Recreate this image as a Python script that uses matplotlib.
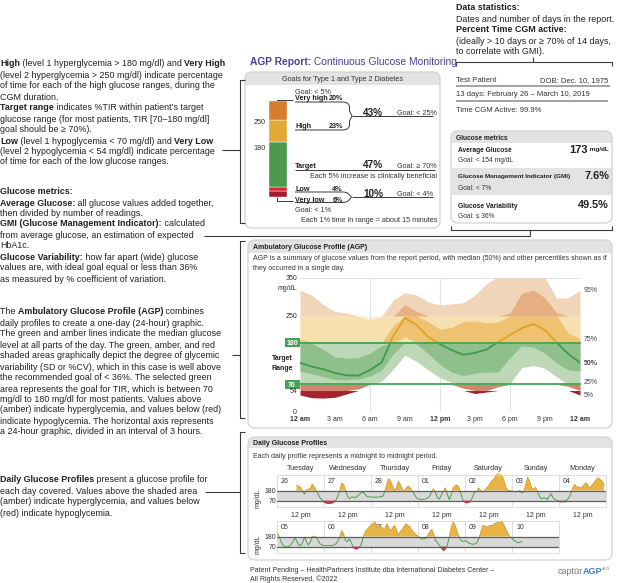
import numpy as np
import matplotlib
matplotlib.use('Agg')
import matplotlib.pyplot as plt
from matplotlib.patches import FancyBboxPatch, Rectangle

plt.rcParams['font.family'] = ['Liberation Sans', 'DejaVu Sans']

nan = np.nan
# ---------------- data ----------------
tir_labels = ['Very low', 'Low', 'Target', 'High', 'Very high']
tir_values = [6, 4, 47, 23, 20]
tir_colors = ['#a31c2c', '#d8262e', '#4b9a4f', '#e3a936', '#d67d2e']

agp_hours = np.arange(25)
p95 = [318, 305, 280, 262, 258, 250, 240, 248, 292, 312, 305, 287, 279, 282, 285, 305,
       335, 355, 370, 375, 375, 350, 297, 298, 318]
p75 = [190, 178, 162, 142, 139, 140, 152, 172, 225, 280, 262, 235, 215, 220, 235, 237,
       232, 234, 258, 310, 318, 298, 258, 205, 190]
p50 = [127, 117, 110, 100, 94, 93, 108, 128, 198, 245, 226, 195, 176, 160, 148, 153,
       162, 182, 200, 218, 229, 213, 180, 150, 127]
p25 = [105, 98, 90, 83, 82, 84, 92, 108, 150, 195, 176, 150, 122, 102, 93, 100,
       102, 103, 140, 172, 168, 152, 126, 108, 105]
p05 = [42, 35, 34, 36, 45, 58, 70, 78, 110, 147, 130, 108, 88, 75, 60, 46,
       50, 64, 72, 114, 120, 112, 90, 65, 42]
agp_xticklabels = ['12 am', '3 am', '6 am', '9 am', '12 pm', '3 pm', '6 pm', '9 pm', '12 am']

row1_days = ['26', '27', '28', '01', '02', '03', '04']
row1_weekdays = ['Tuesday', 'Wednesday', 'Thursday', 'Friday', 'Saturday', 'Sunday', 'Monday']
row2_days = ['05', '06', '07', '08', '09', '10']

# hourly glucose (mg/dL), hours 0..23 of each day
g26 = [nan]*10 + [235, 225, 215, 175, 140, 185, 195, 200, 250, 220, 185, 140, 100, 75]
g27 = [52, 45, 37, 40, 41, 52, 70, 118, 173, 264, 246, 180, 118, 92, 107, 110, 99, 118, 136, 154, 165, 136, 114, 110]
g28 = [110, 108, 107, 108, 110, 112, 118, 165, 246, 312, 283, 228, 180, 209, 283, 246, 191, 173, 209, 228, 209, 173, 143, 107]
g01 = [88, 84, 81, 84, 88, 100, 118, 173, 198, 154, 99, 88, 136, 180, 209, 136, 81, 136, 209, 235, 239, 209, 136, 70]
g02 = [52, 44, 50, 70, 118, 165, 173, 209, 180, 165, 180, 209, 228, 264, 290, 312, 349, 363, 356, 338, 283, 209, 180, 180]
g03 = [173, 170, 165, 173, 180, 154, 165, 246, 327, 283, 209, 191, 217, 173, 118, 88, 99, 99, 81, 118, 143, 99, 81, 74]
g04 = [63, 55, 58, 55, 74, 99, 143, 209, 246, 217, 220, 209, 220, 253, 264, 228, 209, 246, 264, 301, 319, 301, 283, 246]
g05 = [217, 191, 125, 88, 74, 59, 74, 88, 118, 162, 136, 88, 81, 110, 173, 125, 88, 118, 180, 184, 173, 136, 99, 88]
g06 = [81, 81, 81, 80, 81, 88, 99, 125, 173, 246, 209, 136, 125, 154, 110, 63, 44, 44, 63, 88, 173, 228, 257, 283]
g07 = [301, 319, 338, 283, 301, 283, 272, 257, 319, 283, 246, 272, 301, 257, 191, 235, 257, 294, 319, 301, 283, 246, 220, 202]
g08 = [184, 162, 154, 154, 162, 191, 228, 257, 209, 136, 110, 81, 52, 26, 44, 88, 173, 283, 338, 301, 235, 173, 136, 125]
g09 = [136, 125, 110, 99, 96, 99, 110, 154, 224, 301, 294, 283, 294, 301, 301, 319, 330, 338, 338, 345, 301, 257, 209, 180]
g10 = [162, 136, 125, 110, 118, 125] + [nan]*18

row1_glucose = [g26, g27, g28, g01, g02, g03, g04]
row2_glucose = [g05, g06, g07, g08, g09, g10]

# ---------------- figure ----------------
W, H = 617, 583
fig = plt.figure(figsize=(W/100, H/100), dpi=100)
bg = fig.add_axes([0, 0, 1, 1])
bg.set_xlim(0, W); bg.set_ylim(H, 0); bg.axis('off')
R = fig.canvas.get_renderer()

TXT = '#231f20'
LINE = '#3a3a3a'


def add_ax(x0, y0, x1, y1):
    a = fig.add_axes([x0/W, 1-y1/H, (x1-x0)/W, (y1-y0)/H])
    a.set_facecolor('none')
    return a


def twidth(s, size, weight):
    t = bg.text(0, 0, s + '|', fontsize=size, fontweight=weight)
    w1 = t.get_window_extent(R).width
    t.remove()
    t = bg.text(0, 0, '|', fontsize=size, fontweight=weight)
    w2 = t.get_window_extent(R).width
    t.remove()
    return w1 - w2


def rich(x, y, segs, size, color=TXT, z=5):
    for s, wt in segs:
        bg.text(x, y, s, fontsize=size, fontweight=wt, color=color,
                va='center_baseline', ha='left', zorder=z)
        x += twidth(s, size, wt)


def txt(x, y, s, size, weight='normal', color=TXT, ha='left', z=5, **kw):
    return bg.text(x, y, s, fontsize=size, fontweight=weight, color=color,
                   va='center_baseline', ha=ha, zorder=z, **kw)


def pline(pts, color=LINE, lw=0.8, z=3):
    xs, ys = zip(*pts)
    bg.plot(xs, ys, color=color, lw=lw, zorder=z, solid_capstyle='butt')


def panel(x0, y0, x1, y1, hdr_h=0, r=6, hdr='#e3e3e3', edge='#d2d2d2'):
    box = FancyBboxPatch((x0, y0), x1-x0, y1-y0, boxstyle=f"round,pad=0,rounding_size={r}",
                         fc='white', ec='none', zorder=1)
    bg.add_patch(box)
    if hdr_h:
        hr = Rectangle((x0, y0), x1-x0, hdr_h, fc=hdr, ec='none', zorder=1.1)
        bg.add_patch(hr)
        hr.set_clip_path(box)
    bg.add_patch(FancyBboxPatch((x0, y0), x1-x0, y1-y0, boxstyle=f"round,pad=0,rounding_size={r}",
                                fc='none', ec=edge, lw=0.9, zorder=1.2))
    return box


B, N = 'bold', 'normal'
# ---------------- left explanatory column ----------------
LS = 6.4
left_lines = [
    (63, [("High", B), (" (level 1 hyperglycemia > 180 mg/dl) and ", N), ("Very High", B)]),
    (74, [("(level 2 hyperglycemia > 250 mg/dl) indicate percentage", N)]),
    (85, [("of time for each of the high glucose ranges, during the", N)]),
    (96, [("CGM duration.", N)]),
    (107, [("Target range", B), (" indicates %TIR within patient\u2019s target", N)]),
    (118, [("glucose range (for most patients, TIR [70\u2013180 mg/dl]", N)]),
    (129, [("goal should be \u2265 70%).", N)]),
    (140, [("Low", B), (" (level 1 hypoglycemia < 70 mg/dl) and ", N), ("Very Low", B)]),
    (150, [("(level 2 hypoglycemia < 54 mg/dl) indicate percentage", N)]),
    (161, [("of time for each of the low glucose ranges.", N)]),
    (191, [("Glucose metrics:", B)]),
    (202, [("Average Glucose:", B), (" all glucose values added together,", N)]),
    (213, [("then divided by number of readings.", N)]),
    (223, [("GMI (Glucose Management Indicator):", B), (" calculated", N)]),
    (234, [("from average glucose, an estimation of expected", N)]),
    (245, [("HbA1c.", N)]),
    (256, [("Glucose Variability:", B), (" how far apart (wide) glucose", N)]),
    (267, [("values are, with ideal goal equal or less than 36%", N)]),
    (278, [("as measured by % coefficient of variation.", N)]),
    (311, [("The ", N), ("Ambulatory Glucose Profile (AGP)", B), (" combines", N)]),
    (322, [("daily profiles to create a one-day (24-hour) graphic.", N)]),
    (333, [("The green and amber lines indicate the median glucose", N)]),
    (344, [("level at all parts of the day. The green, amber, and red", N)]),
    (355, [("shaded areas graphically depict the degree of glycemic", N)]),
    (366, [("variability (SD or %CV), which in this case is well above", N)]),
    (377, [("the recommended goal of < 36%. The selected green", N)]),
    (388, [("area represents the goal for TIR, which is between 70", N)]),
    (398, [("mg/dl to 180 mg/dl for most patients. Values above", N)]),
    (409, [("(amber) indicate hyperglycemia, and values below (red)", N)]),
    (420, [("indicate hypoglycemia. The horizontal axis represents", N)]),
    (431, [("a 24-hour graphic, divided in an interval of 3 hours.", N)]),
    (479, [("Daily Glucose Profiles", B), (" present a glucose profile for", N)]),
    (490, [("each day covered. Values above the shaded area", N)]),
    (501, [("(amber) indicate hyperglycemia, and values below", N)]),
    (512, [("(red) indicate hypoglycemia.", N)]),
]
for y, segs in left_lines:
    rich(0, y, segs, LS)

# brackets and connectors
for y0, y1 in [(80, 223), (241, 418), (432, 553)]:
    pline([(245, y0), (240, y0), (240, y1), (245, y1)])
pline([(222, 150), (240, 150)])
pline([(232, 355), (240, 355)])
pline([(205, 492), (240, 492)])
pline([(204, 236), (530, 236)])
pline([(451, 226), (451, 230), (612, 230), (612, 226)])
pline([(530, 230), (530, 236)])

# ---------------- top right: data statistics ----------------
rich(456, 7, [("Data statistics:", B)], LS)
rich(456, 18, [("Dates and number of days in the report.", N)], LS)
rich(456, 29, [("Percent Time CGM active:", B)], LS)
rich(456, 40, [("(ideally > 10 days or \u2265 70% of 14 days,", N)], LS)
rich(456, 51, [("to correlate with GMI).", N)], LS)
pline([(456, 66), (456, 62), (612, 62), (612, 66)])
pline([(533, 62), (533, 57)])

PS = 5.5
txt(456, 80, "Test Patient", PS, color='#333')
txt(608, 80, "DOB: Dec. 10, 1975", PS, color='#333', ha='right')
pline([(456, 85.5), (610, 85.5)], color='#8a8a8a', lw=1.1)
txt(456, 94, "13 days: February 26 \u2013 March 10, 2019", PS, color='#333')
pline([(456, 100.5), (608, 100.5)], color='#8a8a8a', lw=1.1)
txt(456, 109, "Time CGM Active: 99.9%", PS, color='#333')

# glucose metrics box
panel(451, 131, 612, 223, hdr_h=12, r=7)
bg.add_patch(Rectangle((451.5, 168), 160, 27, fc='#e3e3e3', ec='none', zorder=1.15))
MS = 4.8
txt(456, 137, "Glucose metrics", MS, B)
txt(458, 150, "Average Glucose", MS, B)
txt(458, 160, "Goal: < 154 mg/dL", MS, color='#333')
w_mg = twidth(" mg/dL", 4.6, B)
txt(609, 149, " mg/dL", 4.6, B, ha='right')
txt(609 - w_mg, 149, "173", 8.0, B, ha='right')
txt(458, 176, "Glucose Management Indicator (GMI)", 4.6, B)
txt(609, 175, "7.6%", 7.8, B, ha='right')
txt(458, 188, "Goal: < 7%", MS, color='#333')
txt(458, 206, "Glucose Variability", MS, B)
txt(609, 204, "49.5%", 7.8, B, ha='right')
txt(458, 216, "Goal: \u2264 36%", MS, color='#333')

# ---------------- AGP title and goals box ----------------
PURPLE = '#4b3f9c'
rich(250, 61, [("AGP Report:", B), (" Continuous Glucose Monitoring", N)], 7.4, color=PURPLE)

panel(245, 72, 440, 228, hdr_h=13, r=7)
GS = 5.2
txt(343, 78.5, "Goals for Type 1 and Type 2 Diabetes", GS, ha='center', color='#333')

axb = add_ax(269, 101, 287, 197)
axb.bar([0]*len(tir_values), tir_values, bottom=np.cumsum([0] + tir_values[:-1]),
        color=tir_colors, width=1.0, edgecolor='white', linewidth=0.3)
axb.set_xlim(-0.5, 0.5); axb.set_ylim(0, 100); axb.axis('off')
txt(266, 122, "250", GS, ha='right', color='#333')
txt(266, 147, "180", GS, ha='right', color='#333')

vh, hi_, tg, lo, vl = tir_values[4], tir_values[3], tir_values[2], tir_values[1], tir_values[0]
txt(295, 91, "Goal: < 5%", GS, color='#333')
txt(295, 98, "Very high", GS, B)
txt(343, 98, f"{vh}%", GS, B, ha='right')
txt(295, 125, "High", GS, B)
txt(343, 125, f"{hi_}%", GS, B, ha='right')
pline([(277, 101), (277, 99.5), (293, 99.5)], lw=0.7)
pline([(295, 102), (344, 102), (347.5, 103.2), (349.5, 106), (349.5, 111), (352, 116), (349.5, 121),
       (349.5, 126), (347.5, 128.8), (344, 130), (295, 130)], lw=0.7)
pline([(352, 116), (433, 116)], lw=0.7)
txt(373, 112, f"{vh + hi_}%", 7.2, B, ha='center')
txt(397, 112.5, "Goal: < 25%", GS, color='#333')

txt(295, 166, "Target", GS, B)
txt(373, 164.5, f"{tg}%", 7.2, B, ha='center')
txt(397, 165.5, "Goal: \u2265 70%", GS, color='#333')
pline([(295, 169.5), (435, 169.5)], lw=0.7)
txt(374, 175.5, "Each 5% increase is clinically beneficial", GS, ha='center', color='#333')

txt(295, 188.5, "Low", GS, B)
txt(343, 188.5, f"{lo}%", GS, B, ha='right')
txt(295, 199, "Very low", GS, B)
txt(343, 199, f"{vl}%", GS, B, ha='right')
pline([(295, 192), (344, 192), (347.5, 193), (349.5, 195), (351.5, 197), (349.5, 199.5), (347.5, 201.5),
       (344, 202.5), (295, 202.5)], lw=0.7)
pline([(351.5, 196.8), (433, 196.8)], lw=0.7)
pline([(277, 197), (277, 201), (293, 201)], lw=0.7)
txt(373, 193, f"{lo + vl}%", 7.2, B, ha='center')
txt(397, 193.5, "Goal: < 4%", GS, color='#333')
txt(295, 209, "Goal: < 1%", GS, color='#333')
txt(369, 219.5, "Each 1% time in range = about 15 minutes", GS, ha='center', color='#333')

# ---------------- AGP panel ----------------
panel(248, 240, 612, 428, hdr_h=13, r=7)
AS = 5.0
txt(253, 246.5, "Ambulatory Glucose Profile (AGP)", AS, B)
txt(253, 258, "AGP is a summary of glucose values from the report period, with median (50%) and other percentiles shown as if", AS, color='#333')
txt(253, 268, "they occurred in a single day.", AS, color='#333')

GREEN = '#45a257'
ax = add_ax(300, 278, 580, 411)
ax.set_xlim(0, 24); ax.set_ylim(0, 350)
for s in ax.spines.values():
    s.set_visible(False)
ax.set_xticks([]); ax.set_yticks([])
ax.axhspan(180, 250, color='#fcf2dd', lw=0, zorder=0)
for xv in [6, 12, 18]:
    ax.axvline(xv, color='#e3e3e3', lw=0.8, zorder=0.5)
ax.axhline(350, color='#e3e3e3', lw=0.8, zorder=0.5)
zones = [(0, 54, '#a3232f', '#a3232f'), (54, 70, '#d5826e', '#c9604e'),
         (70, 180, '#bdd8b6', '#8fc08b'), (180, 250, '#f6e0ae', '#eec270'),
         (250, 600, '#f1d5b8', '#e7b083')]
P95, P75, P50, P25, P05 = map(np.array, (p95, p75, p50, p25, p05))
for lo_, hi2, cl, cd in zones:
    ax.fill_between(agp_hours, np.clip(P05, lo_, hi2), np.clip(P95, lo_, hi2), color=cl, lw=0, zorder=1)
    ax.fill_between(agp_hours, np.clip(P25, lo_, hi2), np.clip(P75, lo_, hi2), color=cd, lw=0, zorder=2)
for ylo, yhi, col in [(0, 180, '#3f9a4b'), (180, 600, '#e0a128')]:
    ln, = ax.plot(agp_hours, P50, color=col, lw=1.3, zorder=3)
    ln.set_clip_path(Rectangle((0, ylo), 24, yhi - ylo, transform=ax.transData))
for yv in [70, 180]:
    ax.plot([0, 24], [yv, yv], color=GREEN, lw=1.3, zorder=4, clip_on=False)

def agp_y(v):
    return 411 - v * 133 / 350

for v, lab in [(350, "350"), (250, "250"), (54, "54"), (0, "0")]:
    txt(297, agp_y(v), lab, AS, ha='right', color='#333')
txt(297, 287.5, "mg/dL", AS, ha='right', color='#333')
for v in [180, 70]:
    bg.add_patch(Rectangle((284.5, agp_y(v) - 4.5), 15, 9, fc=GREEN, ec='none', zorder=4))
    txt(292, agp_y(v), str(v), AS, B, color='white', ha='center')
txt(282, 358, "Target", AS, B, ha='center')
txt(282, 367, "Range", AS, B, ha='center')
for lab, yv, wt in [("95%", 320, N), ("75%", 192, N), ("50%", 127, B), ("25%", 78, N), ("5%", 44, N)]:
    txt(584, agp_y(yv), lab, AS, wt, color='#444')
for i, lab in enumerate(agp_xticklabels):
    txt(300 + i * 35, 418.5, lab, AS, B if lab.startswith('12') else N, ha='center', color='#333')

# ---------------- daily glucose profiles ----------------
panel(248, 437, 612, 560, hdr_h=11, r=7)
txt(253, 442.5, "Daily Glucose Profiles", AS, B)
txt(253, 456, "Each daily profile represents a midnight to midnight period.", AS, color='#333')

AMBER = '#e9b446'
RED = '#d0434b'
LINEG = '#4c9e55'


def day_row(y0, days, glucose, labels_below):
    nd = len(days)
    x0 = 277
    dw = 47
    a = add_ax(x0, y0, x0 + dw * nd, y0 + 32)
    a.set_xlim(0, 24 * nd); a.set_ylim(0, 350)
    a.set_xticks([]); a.set_yticks([])
    for s in a.spines.values():
        s.set_color('#dddddd'); s.set_linewidth(0.7)
    for k in range(1, nd):
        a.axvline(24 * k, color='#dddddd', lw=0.7, zorder=0.5)
    a.axhspan(70, 180, color='#d9d9d9', lw=0, zorder=1)
    for yv in (70, 180):
        a.axhline(yv, color='#5e5e5e', lw=0.9, zorder=4)
    g = np.concatenate([np.array(d, float) for d in glucose])
    t = np.arange(len(g), dtype=float)
    a.fill_between(t, 180, g, where=g > 180, interpolate=True, color=AMBER, lw=0, zorder=2)
    a.fill_between(t, g, 70, where=g < 70, interpolate=True, color=RED, lw=0, zorder=2)
    for ylo, yhi, col in [(70, 180, LINEG), (180, 400, '#d9a133'), (0, 70, '#b8323a')]:
        ln, = a.plot(t, g, color=col, lw=0.7, zorder=3)
        ln.set_clip_path(Rectangle((0, ylo), 24 * nd, yhi - ylo, transform=a.transData))
    for k, d in enumerate(days):
        txt(x0 + dw * k + 4, y0 + 5.5, d, AS, color='#333')
        if labels_below:
            txt(x0 + dw * k + dw / 2, y0 + 39.5, "12 pm", AS, ha='center', color='#333')
    yy = lambda v: y0 + 32 * (1 - v / 350)
    txt(276, yy(180), "180", AS, ha='right', color='#333')
    txt(276, yy(70), "70", AS, ha='right', color='#333')
    txt(258, y0 + 16, "mg/dL", AS, ha='center', color='#333', rotation=90)
    return a


for k, wd in enumerate(row1_weekdays):
    txt(277 + 47 * k + 23.5, 468, wd, 5.2, ha='center', color='#333')
day_row(475, row1_days, row1_glucose, True)
day_row(521, row2_days, row2_glucose, False)

# ---------------- footer ----------------
txt(250, 570, "Patent Pending \u2013 HealthPartners Institute dba International Diabetes Center \u2013", AS, color='#333')
txt(250, 578.5, "All Rights Reserved. \u00a92022", AS, color='#333')
wv = twidth("v5.0", 3.0, N)
wa = twidth("AGP", 6.5, B)
txt(610, 568, "v5.0", 3.0, color='#555', ha='right')
txt(610 - wv, 570, "AGP", 6.5, B, color='#3b82d6', ha='right')
txt(610 - wv - wa, 570, "capt\u016br", 6.5, color='#777', ha='right')

fig.savefig('out.png', dpi=100)
